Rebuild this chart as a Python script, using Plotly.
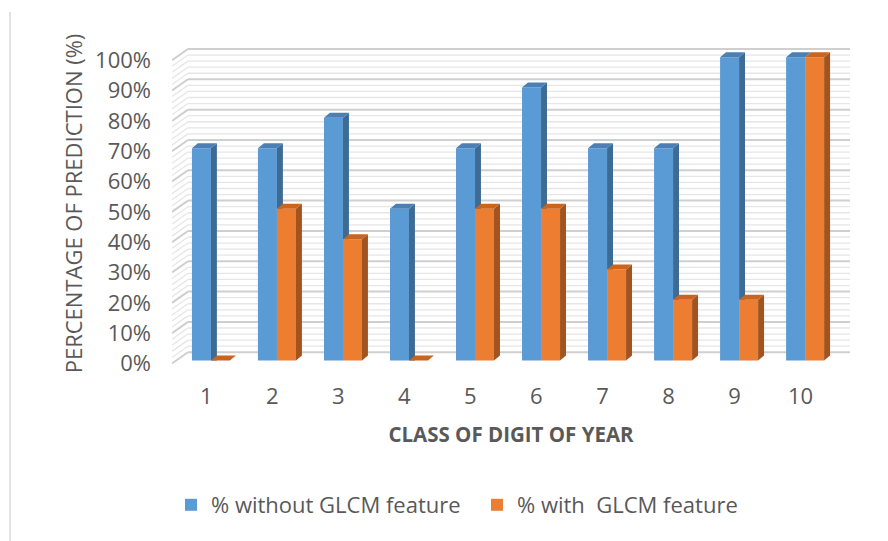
import plotly.graph_objects as go

# ---- data ----
categories = [1, 2, 3, 4, 5, 6, 7, 8, 9, 10]
without_glcm = [70, 70, 80, 50, 70, 90, 70, 70, 100, 100]
with_glcm = [0, 50, 40, 0, 50, 50, 30, 20, 20, 100]
y_ticks = [0, 10, 20, 30, 40, 50, 60, 70, 80, 90, 100]
y_ticktext = [f"{v}%" for v in y_ticks]
series_names = ["% without GLCM feature", "% with\u00a0 GLCM feature"]

# ---- style ----
BLUE, BLUE_SIDE, BLUE_TOP = "#5B9BD5", "#3D6B94", "#4C80B4"
ORANGE, ORANGE_SIDE, ORANGE_TOP = "#ED7D31", "#A3531E", "#C9651F"
TXT = "#595959"
FONT = "Open Sans"
FS = 22

W, H = 888, 541
L, R, T, B = 172, 38, 42, 176
XR = [0.41, 10.68]
YR = [-1.5, 105]
BW = 0.288          # bar width (data units)
DX, DY = 0.09, 1.65  # bar depth offset
GX0, GX1 = XR[0], 0.652   # wall slant x (front, back)
GFRONT, GBACK = -1.0, 2.7  # wall slant y offsets

fig = go.Figure()

# front faces
fig.add_trace(go.Bar(x=categories, y=without_glcm, width=BW, offset=-BW,
                     marker=dict(color=BLUE, line=dict(width=0)),
                     name=series_names[0]))
fig.add_trace(go.Bar(x=categories, y=with_glcm, width=BW, offset=0,
                     marker=dict(color=ORANGE, line=dict(width=0)),
                     name=series_names[1]))


def poly_trace(xs, ys, color):
    return go.Scatter(x=xs, y=ys, mode="lines", fill="toself", fillcolor=color,
                      line=dict(width=0, color=color), showlegend=False,
                      hoverinfo="skip")


# blue side faces (visible part above orange front)
xs, ys = [], []
for c, b, o in zip(categories, without_glcm, with_glcm):
    if b > o:
        x1 = c
        xs += [x1, x1 + DX, x1 + DX, x1, x1, None]
        ys += [o, o, b + DY, b, o, None]
fig.add_trace(poly_trace(xs, ys, BLUE_SIDE))

# blue caps
xs, ys = [], []
for c, b in zip(categories, without_glcm):
    x0, x1 = c - BW, c
    xs += [x0, x1, x1 + DX, x0 + DX, x0, None]
    ys += [b, b, b + DY, b + DY, b, None]
fig.add_trace(poly_trace(xs, ys, BLUE_TOP))

# orange side faces
xs, ys = [], []
for c, o in zip(categories, with_glcm):
    if o > 0:
        x2 = c + BW
        xs += [x2, x2 + DX, x2 + DX, x2, x2, None]
        ys += [0, DY, o + DY, o, 0, None]
fig.add_trace(poly_trace(xs, ys, ORANGE_SIDE))

# orange caps
xs, ys = [], []
for c, o in zip(categories, with_glcm):
    x1, x2 = c, c + BW
    xs += [x1, x2, x2 + DX, x1 + DX, x1, None]
    ys += [o, o, o + DY, o + DY, o, None]
fig.add_trace(poly_trace(xs, ys, ORANGE_TOP))

# back wall grid (major every 10 %, minor every 2 %)
shapes = []
for v in range(0, 101, 2):
    major = v % 10 == 0
    col = "#cfcfcf" if major else "#e6e6e6"
    wd = 2 if major else 1.3
    shapes.append(dict(type="line", xref="x", yref="y", layer="below",
                       x0=GX1, x1=XR[1], y0=v + GBACK, y1=v + GBACK,
                       line=dict(color=col, width=wd)))
    shapes.append(dict(type="line", xref="x", yref="y", layer="below",
                       x0=GX0, x1=GX1, y0=v + GFRONT, y1=v + GBACK,
                       line=dict(color=col, width=wd)))

# chart-area left border
pw, ph = W - L - R, H - T - B
shapes.append(dict(type="line", xref="paper", yref="paper", layer="below",
                   x0=(10 - L) / pw, x1=(10 - L) / pw,
                   y0=(H - B - 12) / ph, y1=(H - B - H) / ph,
                   line=dict(color="#d9d9d9", width=1.5)))

fig.update_layout(
    width=W, height=H,
    margin=dict(l=L, r=R, t=T, b=B, autoexpand=False),
    paper_bgcolor="white", plot_bgcolor="white",
    barmode="overlay",
    font=dict(family=FONT, size=FS, color=TXT),
    shapes=shapes,
    showlegend=True,
    legend=dict(orientation="h", x=(171 - L) / pw, xanchor="left", y=(H - B - 505) / ph,
                yanchor="middle", font=dict(size=FS, color=TXT),
                traceorder="normal", itemwidth=30,
                entrywidth=261, entrywidthmode="pixels"),
    xaxis=dict(range=XR, tickvals=[c - 0.07 for c in categories],
               ticktext=[str(c) for c in categories],
               showgrid=False, zeroline=False, showline=False, ticks="",
               ticklabelstandoff=16,
               title=dict(text="<b>CLASS OF DIGIT OF YEAR</b>", standoff=18,
                          font=dict(size=20.5, color=TXT))),
    yaxis=dict(range=YR, tickvals=[v + GFRONT for v in y_ticks], ticktext=y_ticktext,
               showgrid=False, zeroline=False, showline=False, ticks="",
               ticklabelstandoff=20,
               title=dict(text="PERCENTAGE OF PREDICTION (%)", standoff=6,
                          font=dict(size=FS, color=TXT))),
)

fig.write_html("out.html", config={"displayModeBar": False},
               post_script="document.body.style.margin='0';")
